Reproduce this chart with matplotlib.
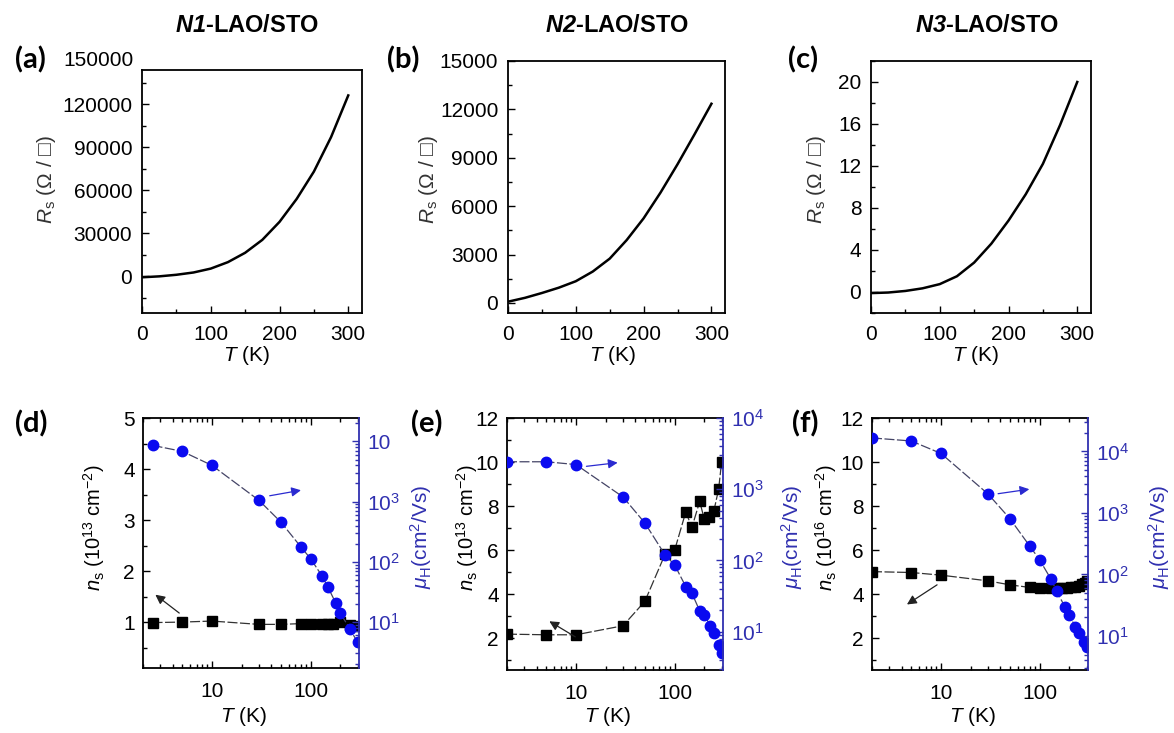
import numpy as np
import matplotlib.pyplot as plt
from matplotlib.ticker import MultipleLocator, FixedLocator, FixedFormatter, LogLocator, NullFormatter
import matplotlib.transforms as mtransforms

plt.rcParams['font.family'] = ['Liberation Sans', 'DejaVu Sans']
plt.rcParams['mathtext.fontset'] = 'custom'
plt.rcParams['mathtext.rm'] = 'Liberation Sans'
plt.rcParams['mathtext.it'] = 'Liberation Sans:italic'
plt.rcParams['mathtext.bf'] = 'Liberation Sans:bold'
plt.rcParams['mathtext.bfit'] = 'Liberation Sans:italic:bold'

# --- sheet resistance vs T (top row) ---
T_r = [2, 25, 50, 75, 100, 125, 150, 175, 200, 225, 250, 275, 300]
R_n1 = [-500, 100, 1200, 2800, 5500, 10000, 16500, 25500, 38000, 54000, 73000, 97000, 126000]
R_n2 = [100, 320, 620, 950, 1350, 1950, 2750, 3900, 5250, 6850, 8600, 10450, 12350]
R_n3 = [-0.1, -0.05, 0.1, 0.35, 0.75, 1.5, 2.8, 4.6, 6.8, 9.3, 12.2, 15.9, 20.0]

# --- carrier density and Hall mobility (bottom row) ---
T_ns_d = [2.5, 5, 10, 30, 50, 80, 100, 130, 150, 170, 200, 250, 300]
ns_d = [0.99, 1.0, 1.02, 0.955, 0.955, 0.97, 0.97, 0.97, 0.97, 0.97, 1.0, 0.935, 0.92]
T_mu_d = [2.5, 5, 10, 30, 50, 80, 100, 130, 150, 180, 200, 250, 300]
mu_d = [8600, 6840, 4000, 1050, 457, 176, 113, 59, 38, 20.7, 14.1, 7.7, 4.6]

T_ns_e = [2, 5, 10, 30, 50, 80, 100, 130, 150, 180, 200, 225, 250, 280, 300]
ns_e = [2.18, 2.15, 2.15, 2.56, 3.67, 5.8, 5.98, 7.73, 7.03, 8.21, 7.41, 7.5, 7.76, 8.77, 10.0]
T_mu_e = [2, 5, 10, 30, 50, 80, 100, 130, 150, 180, 200, 230, 250, 280, 300]
mu_e = [2430, 2430, 2220, 780, 336, 120, 87, 43, 34.7, 19.6, 17.2, 12.2, 9.5, 6.6, 5.0]

T_ns_f = [2, 5, 10, 30, 50, 80, 100, 130, 150, 170, 190, 210, 230, 250, 270, 290, 300]
ns_f = [5.02, 4.98, 4.86, 4.6, 4.42, 4.3, 4.27, 4.27, 4.26, 4.26, 4.27, 4.3, 4.33, 4.38, 4.45, 4.52, 4.6]
T_mu_f = [2, 5, 10, 30, 50, 80, 100, 130, 150, 180, 200, 230, 250, 280, 300]
mu_f = [16600, 14800, 9300, 2040, 810, 286, 174, 85, 53, 30, 22, 14.2, 11, 7.9, 6.7]

W, H = 1174, 733
fig = plt.figure(figsize=(W / 100, H / 100), dpi=100)
BLUE = '#0a0af0'
BLUE_TXT = '#3030b0'
FS = 15


def add_ax(l, t, r, b):
    return fig.add_axes([l / W, 1 - b / H, (r - l) / W, (b - t) / H])


def ftext(x, y, s, **kw):
    fig.text(x / W, 1 - y / H, s, **kw)


# top row
top = [
    ((142, 70, 362, 313), R_n1, (-25400, 143700), 30000, 15000, r'$\mathbfit{N1}$-LAO/STO', 247, '(a)', 30, 47),
    ((508, 61, 725, 313), R_n2, (-620, 15000), 3000, 1500, r'$\mathbfit{N2}$-LAO/STO', 617, '(b)', 403, 429),
    ((871, 61, 1091, 313), R_n3, (-2, 22), 4, 2, r'$\mathbfit{N3}$-LAO/STO', 987, '(c)', 803, 817),
]
for box, R, ylim, major, minor, title, tx, lab, lx, ylx in top:
    ax = add_ax(*box)
    ax.plot(T_r, R, color='black', lw=1.8)
    ax.set_xlim(0, 320)
    ax.set_ylim(*ylim)
    ax.xaxis.set_major_locator(FixedLocator([0, 100, 200, 300]))
    ax.xaxis.set_minor_locator(MultipleLocator(50))
    ax.yaxis.set_major_locator(MultipleLocator(major))
    ax.yaxis.set_minor_locator(MultipleLocator(minor))
    ax.tick_params(direction='in', length=5, width=1, labelsize=FS, top=False, right=False)
    ax.tick_params(axis='x', pad=9)
    ax.tick_params(axis='y', pad=7)
    ax.tick_params(which='minor', direction='in', length=3, width=1, top=False, right=False)
    for sp in ax.spines.values():
        sp.set_linewidth(1.3)
    ftext(tx, 25, title, fontsize=17, fontweight='bold', ha='center', va='center')
    ftext(lx, 60, lab, fontsize=21, fontweight='bold', family='Lato', ha='center', va='center')
    ftext(ylx, 180, r'$R_{\rm s}$ (Ω / □)', fontsize=FS, rotation=90, ha='center', va='center', color='#333333')
    ftext(box[0] + 105, 356, r'$T$ (K)', fontsize=FS, ha='center', va='center')
    if lab == '(a)':
        trans = mtransforms.blended_transform_factory(ax.transAxes, ax.transData)
        ax.text(-0.04, 150000, '150000', transform=trans, ha='right', va='center',
                fontsize=FS, clip_on=False)

# bottom row
bottom = [
    ((143, 418, 359, 668), T_ns_d, ns_d, T_mu_d, mu_d, (0.1, 5), 1, 0.5, (1.72, 24500),
     ['10$^1$', '10$^2$', '10$^3$', '10'], r'$n_{\rm s}$ (10$^{13}$ cm$^{-2}$)', '(d)', 31, 94, 421,
     ((0.178, 0.213), (0.047, 0.30)), ((0.574, 0.687), (0.744, 0.713))),
    ((507, 418, 723, 670), T_ns_e, ns_e, T_mu_e, mu_e, (0.55, 12), 2, 1, (2.9, 10000),
     ['10$^1$', '10$^2$', '10$^3$', '10$^4$'], r'$n_{\rm s}$ (10$^{13}$ cm$^{-2}$)', '(e)', 427, 467, 792,
     ((0.327, 0.126), (0.185, 0.199)), ((0.355, 0.807), (0.525, 0.824))),
    ((872, 418, 1088, 670), T_ns_f, ns_f, T_mu_f, mu_f, (0.55, 12), 2, 1, (2.8, 35000),
     ['10$^1$', '10$^2$', '10$^3$', '10$^4$'], r'$n_{\rm s}$ (10$^{16}$ cm$^{-2}$)', '(f)', 805, 826, 1159,
     ((0.312, 0.344), (0.151, 0.254)), ((0.571, 0.698), (0.741, 0.719))),
]
for (box, Tn, ns, Tm, mu, nlim, nmaj, nmin, mlim, mlabels, nlabel, lab, lx, nx, mx,
     arr_k, arr_b) in bottom:
    ax = add_ax(*box)
    ax2 = ax.twinx()
    ax.set_xscale('log')
    ax.set_xlim(2, 310)
    ax.plot(Tn, ns, color='#333333', lw=0.9, ls=(0, (8, 2)), marker='s', ms=6.5,
            mfc='black', mec='black')
    ax.set_ylim(*nlim)
    ax.yaxis.set_major_locator(MultipleLocator(nmaj))
    ax.yaxis.set_minor_locator(MultipleLocator(nmin))
    ax.xaxis.set_major_locator(FixedLocator([10, 100]))
    ax.xaxis.set_major_formatter(FixedFormatter(['10', '100']))
    ax.xaxis.set_minor_locator(LogLocator(base=10, subs=np.arange(2, 10)))
    ax.xaxis.set_minor_formatter(NullFormatter())
    ax.tick_params(direction='in', length=5, width=1, labelsize=FS, top=True, right=False)
    ax.tick_params(which='minor', direction='in', length=3, width=1, top=True, right=False)
    ax.tick_params(axis='x', pad=10)
    ax.tick_params(axis='y', pad=6)

    ax2.set_yscale('log')
    ax2.plot(Tm, mu, color='#444466', lw=0.9, ls=(0, (8, 2)), marker='o', ms=7.5,
             mfc=BLUE, mec=BLUE)
    ax2.set_ylim(*mlim)
    ax2.yaxis.set_major_locator(FixedLocator([10, 100, 1000, 10000]))
    ax2.yaxis.set_major_formatter(FixedFormatter(mlabels))
    ax2.yaxis.set_minor_locator(LogLocator(base=10, subs=np.arange(2, 10)))
    ax2.yaxis.set_minor_formatter(NullFormatter())
    ax2.tick_params(axis='y', direction='in', length=5, width=1, labelsize=FS,
                    colors=BLUE_TXT, pad=6)
    ax2.tick_params(axis='y', which='minor', direction='in', length=3, width=1, colors=BLUE_TXT)

    for sp in ax.spines.values():
        sp.set_linewidth(1.3)
    ax.spines['right'].set_visible(False)
    for name, sp in ax2.spines.items():
        sp.set_linewidth(1.3)
        sp.set_visible(name == 'right')
    ax2.spines['right'].set_color(BLUE_TXT)

    ax.annotate('', xy=arr_k[1], xytext=arr_k[0], xycoords='axes fraction',
                arrowprops=dict(arrowstyle='-|>', color='#222222', lw=0.9, mutation_scale=14))
    ax.annotate('', xy=arr_b[1], xytext=arr_b[0], xycoords='axes fraction',
                arrowprops=dict(arrowstyle='-|>', color='#2a2ad0', lw=0.9, mutation_scale=14))

    ftext(lx, 424, lab, fontsize=21, fontweight='bold', family='Lato', ha='center', va='center')
    ftext(nx, 528, nlabel, fontsize=14.5, rotation=90, ha='center', va='center')
    ftext(mx, 537, r'$\mu_{\rm H}$(cm$^2$/Vs)', fontsize=FS, rotation=90, ha='center',
          va='center', color=BLUE_TXT)
    ftext((box[0] + box[2]) / 2 - 7, 716, r'$T$ (K)', fontsize=FS, ha='center', va='center')

fig.savefig('out.png', dpi=100, facecolor='white')
